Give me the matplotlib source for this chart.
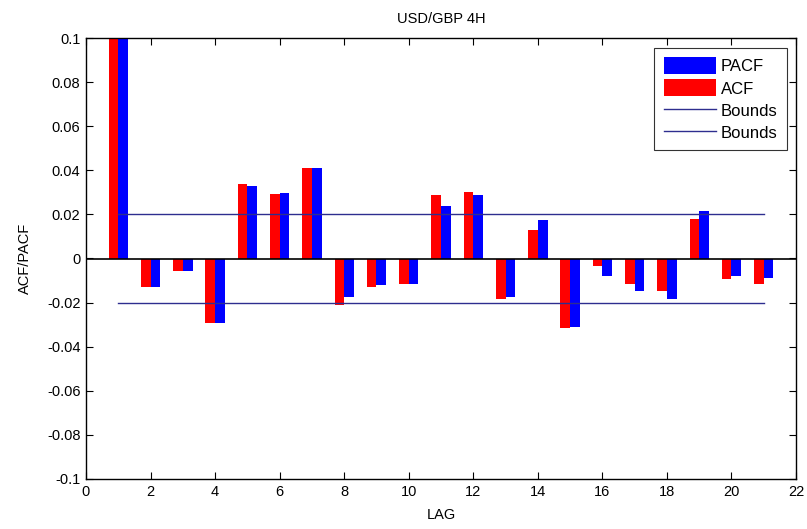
import matplotlib
matplotlib.use("Agg")
import matplotlib.pyplot as plt
import numpy as np

plt.rcParams['font.family'] = ['Liberation Sans', 'DejaVu Sans']

lags = np.arange(1, 22)
acf = [0.1, -0.0128, -0.0056, -0.0294, 0.0339, 0.0292, 0.0411, -0.0209,
       -0.0127, -0.0116, 0.0290, 0.0302, -0.0182, 0.0131, -0.0317, -0.0032,
       -0.0116, -0.0146, 0.0179, -0.0092, -0.0116]
pacf = [0.1, -0.0130, -0.0056, -0.0294, 0.0331, 0.0298, 0.0410, -0.0175,
        -0.0121, -0.0116, 0.0236, 0.0290, -0.0175, 0.0173, -0.0310, -0.0080,
        -0.0146, -0.0182, 0.0214, -0.0080, -0.0087]
bound = 0.02
xticks = np.arange(0, 23, 2)
yticks = np.arange(-0.1, 0.1001, 0.02)
ytick_labels = ['-0.1', '-0.08', '-0.06', '-0.04', '-0.02', '0',
                '0.02', '0.04', '0.06', '0.08', '0.1']

fig = plt.figure(figsize=(8.07, 5.29), dpi=100)
ax = fig.add_axes([86 / 807, 1 - 479 / 529, 710 / 807, 441 / 529])

w = 0.3
pb = ax.bar(lags + w / 2, pacf, width=w, color='#0000ff', label='PACF')
ab = ax.bar(lags - w / 2, acf, width=w, color='#ff0000', label='ACF')
ax.axhline(0, color='black', lw=1.2, zorder=3)
l1, = ax.plot([lags[0], lags[-1]], [bound, bound], color='#2e2e8f', lw=1, label='Bounds')
l2, = ax.plot([lags[0], lags[-1]], [-bound, -bound], color='#2e2e8f', lw=1, label='Bounds')

ax.set_xlim(0, 22)
ax.set_ylim(-0.1, 0.1)
ax.set_xticks(xticks)
ax.set_yticks(yticks)
ax.set_yticklabels(ytick_labels)
ax.tick_params(direction='in', length=5, width=0.8, top=True, right=True,
               labelsize=10.5, colors='black', pad=4)
for s in ax.spines.values():
    s.set_linewidth(1.0)

ax.set_title('USD/GBP 4H', fontsize=10.5, pad=11)
ax.set_xlabel('LAG', fontsize=10.5, labelpad=7)
ax.set_ylabel('ACF/PACF', fontsize=10.5, labelpad=11)

leg = ax.legend(handles=[pb, ab, l1, l2], loc='upper right',
                fontsize=12, frameon=True, fancybox=False, edgecolor='black',
                handlelength=3.15, handleheight=1.2, borderpad=0.55, labelspacing=0.3,
                handletextpad=0.3, borderaxespad=0)
leg.set_bbox_to_anchor((787 / 807, 1 - 48 / 529), transform=fig.transFigure)
leg.get_frame().set_linewidth(0.8)

fig.savefig('out.png', dpi=100)
